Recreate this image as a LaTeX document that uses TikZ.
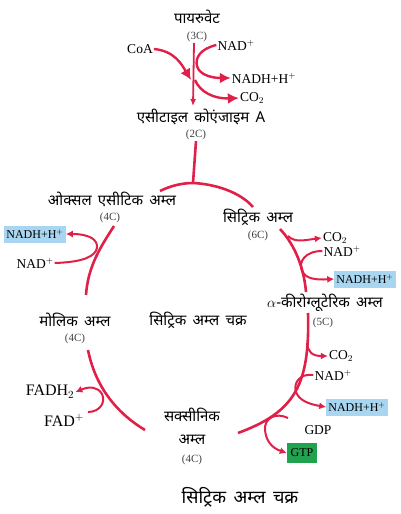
\documentclass[tikz,border=0pt]{standalone}
\usepackage{fontspec}
\setmainfont{Liberation Serif}
\newfontfamily\hindi[Script=Devanagari,WordSpace=1.6]{Noto Sans}
\usetikzlibrary{arrows.meta}
\definecolor{krebs}{RGB}{224,32,72}
\definecolor{nadhblue}{RGB}{168,214,240}
\definecolor{gtpgreen}{RGB}{32,162,78}
\begin{document}
\begin{tikzpicture}[x=1pt,y=-1pt,
    cyc/.style={krebs, line width=2.6pt},
    bigarr/.style={krebs, line width=2.4pt, -{Latex[length=11pt,width=11pt]}},
    smallarr/.style={krebs, line width=2pt, -{Latex[length=7pt,width=7pt]}},
    hin/.style={font=\hindi\fontsize{15}{17}\selectfont, inner sep=1pt},
    lbl/.style={font=\fontsize{13.5}{15}\selectfont, inner sep=1pt},
    cnum/.style={font=\fontsize{11}{12}\selectfont, text=black!75, inner sep=1pt},
    nadh/.style={fill=nadhblue, inner sep=2pt, minimum height=17pt, font=\fontsize{12}{13}\selectfont}]
\useasboundingbox (0,0) rectangle (400,514);

% Labels
\node[hin] (pyr) at (197,17) {पायरुवेट};
\node[cnum] (pyrc) at (197,37) {(3C)};
\node[lbl] (coa) at (140,49) {CoA};
\node[lbl] (nadtop) at (236,45) {NAD$^+$};
\node[lbl] (nadhtop) at (264,78) {NADH+H$^+$};
\node[lbl] (co2top) at (252,98) {CO$_2$};
\node[hin] (acetyl) at (201,117) {एसीटाइल कोएंजाइम A};
\node[cnum] (acetylc) at (196,135) {(2C)};

\node[hin] (oaa) at (112,199) {ओक्सल एसीटिक अम्ल};
\node[cnum] (oaac) at (110,218) {(4C)};
\node[nadh] (nadhl) at (35,234) {NADH+H$^+$};
\node[lbl] (nadl) at (35,263) {NAD$^+$};

\node[hin] (cit) at (258,217) {सिट्रिक अम्ल};
\node[cnum] (citc) at (258,236) {(6C)};
\node[lbl] (co2a) at (335,238) {CO$_2$};
\node[lbl] (nada) at (342,251) {NAD$^+$};
\node[nadh] (nadha) at (365,279) {NADH+H$^+$};
\node[hin] (akg) at (325,303) {$\alpha$-कीरोग्लूटेरिक अम्ल};
\node[cnum] (akgc) at (323,323) {(5C)};

\node[hin] (cycle) at (198,320) {सिट्रिक अम्ल चक्र};

\node[hin] (mal) at (75,320) {मोलिक अम्ल};
\node[cnum] (malc) at (75,339) {(4C)};
\node[lbl, font=\fontsize{16}{18}\selectfont] (fadh) at (50,392) {FADH$_2$};
\node[lbl, font=\fontsize{16}{18}\selectfont] (fad) at (64,420) {FAD$^+$};

\node[hin] (suc) at (192,415) {सक्सीनिक};
\node[hin] (suca) at (192,440) {अम्ल};
\node[cnum] (succ) at (192,460) {(4C)};
\node[lbl] (co2b) at (341,356) {CO$_2$};
\node[lbl] (nadb) at (333,375) {NAD$^+$};
\node[nadh] (nadhb) at (357,407) {NADH+H$^+$};
\node[lbl] (gdp) at (318,430) {GDP};
\node[nadh, fill=gtpgreen, minimum height=20pt, minimum width=30pt] (gtp) at (302,453) {GTP};

\node[hin, font=\hindi\fontsize{18}{20}\selectfont] (title) at (240,497) {सिट्रिक अम्ल चक्र};

% pyruvate to acetyl CoA
\coordinate (pyrtop) at (194,43);
\coordinate (pyrbot) at (193,106);
\draw[krebs, line width=1.8pt, -{Latex[length=7pt,width=6pt]}] (pyrtop) -- (pyrbot);
\draw[bigarr] (coa.east) .. controls (175,51) and (182,65) .. (191,80);
\draw[bigarr] (nadtop.west) .. controls (200,49) and (195,58) .. (197,66)
    .. controls (199,74) and (210,78) .. (nadhtop.west);
\draw[bigarr] (195,80) .. controls (200,92) and (214,99) .. (co2top.west);

% acetyl CoA joins the cycle
\coordinate (join) at (193,183);
\draw[cyc] (acetylc.south) -- (join);
\draw[cyc] (160,191) .. controls (172,185) and (184,183) .. (join)
    .. controls (215,184) and (240,192) .. (253,207);

% citric acid to alpha-ketoglutaric acid
\draw[cyc] (280,229) .. controls (295,245) and (304,268) .. (306,292);
\draw[smallarr] (288,236) .. controls (295,243) and (305,240) .. (co2a.west);
\draw[smallarr] (nada.west) .. controls (305,251) and (298,262) .. (302,271)
    .. controls (306,279) and (316,280) .. (nadha.west);

% alpha-ketoglutaric acid to succinic acid
\draw[cyc] (308,313) .. controls (310,385) and (295,412) .. (238,433);
\draw[smallarr] (307,343) .. controls (308,352) and (312,356) .. (co2b.west);
\draw[smallarr] (nadb.west) .. controls (300,373) and (293,383) .. (296,392)
    .. controls (299,400) and (308,404) .. (nadhb.west);
\draw[smallarr] (288,418) .. controls (276,412) and (264,418) .. (265,430)
    .. controls (266,441) and (272,448) .. (gtp.west);

% succinic acid to malic acid
\draw[cyc] (145,430) .. controls (115,412) and (95,385) .. (88,350);
\draw[smallarr] (88,412) .. controls (100,412) and (106,402) .. (102,394)
    .. controls (98,387) and (90,386) .. (fadh.east);

% malic acid to oxaloacetic acid
\draw[cyc] (86,295) .. controls (88,265) and (102,245) .. (114,226);
\draw[smallarr] (nadl.east) .. controls (85,262) and (95,256) .. (97,248)
    .. controls (98,240) and (90,234) .. (nadhl.east);
\end{tikzpicture}
\end{document}
